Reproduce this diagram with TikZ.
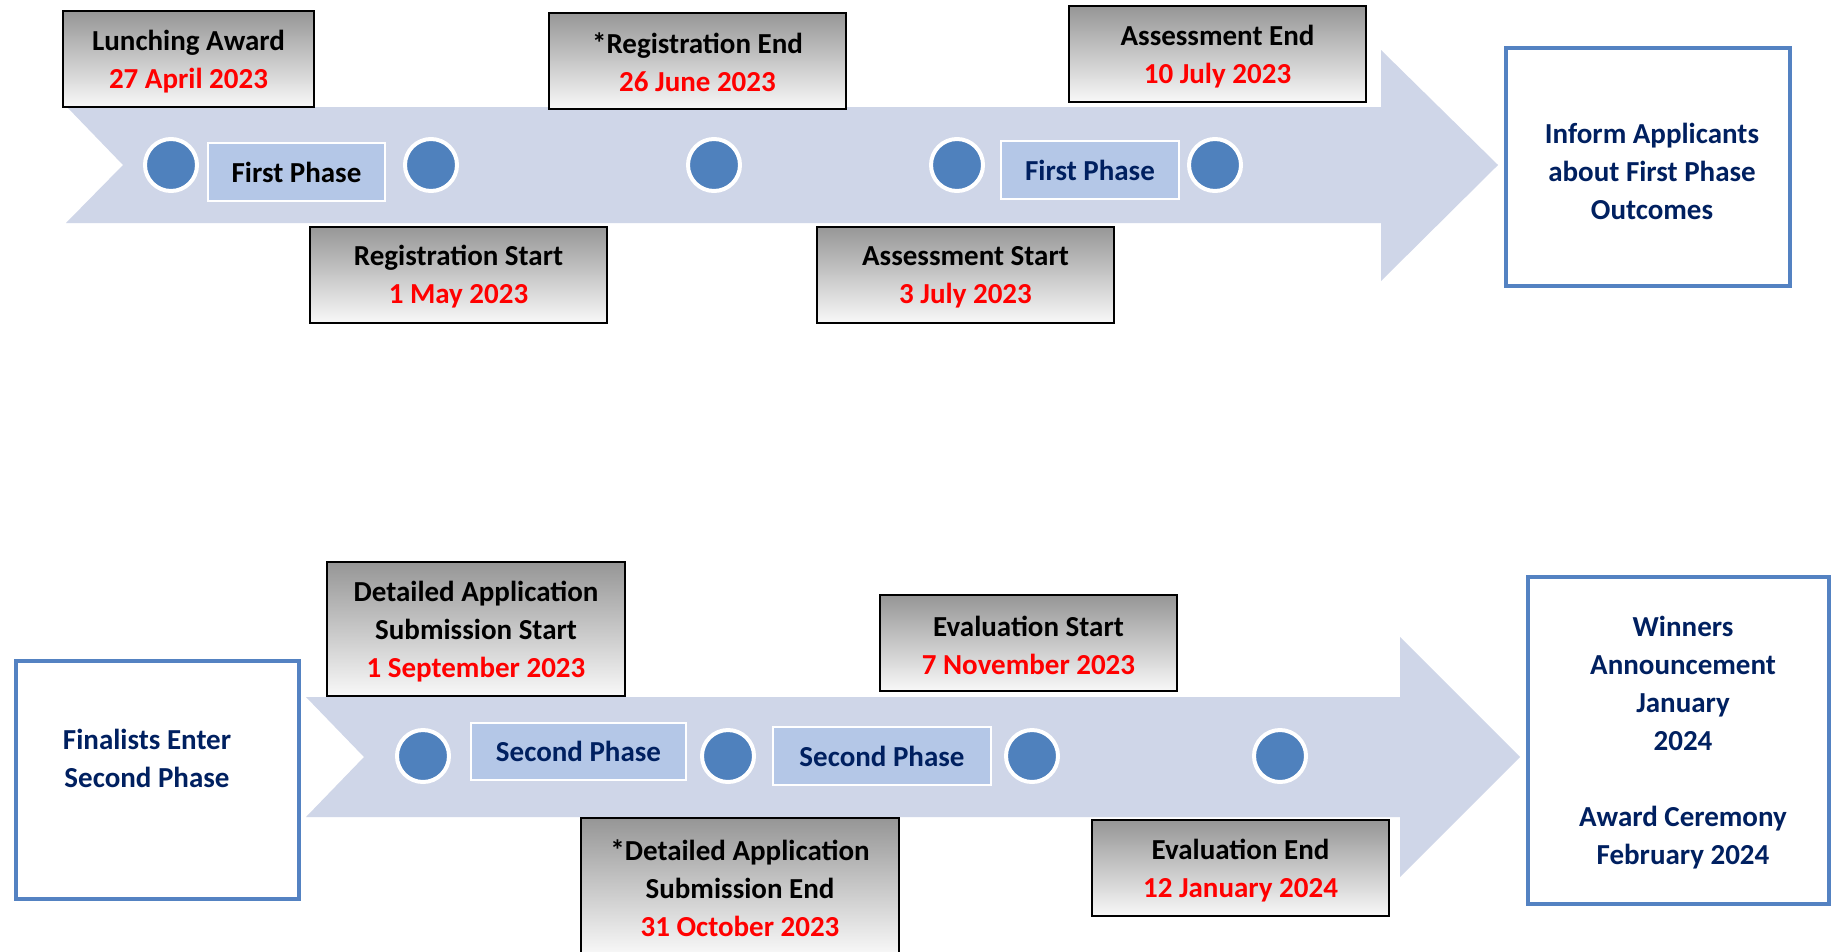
\documentclass[tikz,border=0pt]{standalone}
\usepackage{fontspec}
\setmainfont{Carlito}
\definecolor{arrowfill}{RGB}{207,214,232}
\definecolor{dotblue}{RGB}{79,129,189}
\definecolor{phasefill}{RGB}{180,199,231}
\definecolor{navy}{RGB}{0,32,96}
\definecolor{boxblue}{RGB}{84,130,194}
\definecolor{datered}{RGB}{255,0,0}
\definecolor{gtop}{RGB}{150,150,150}
\definecolor{gbot}{RGB}{248,248,248}
\newcommand\tallstrut{\rule{0pt}{25pt}}
\begin{document}
\begin{tikzpicture}[x=1pt,y=-1pt,
  every node/.style={font=\fontsize{29}{38}\selectfont\bfseries, inner sep=0pt, align=center},
  datebox/.style={draw=black, line width=2pt, top color=gtop, bottom color=gbot, minimum height=96},
  dot/.style={circle, fill=dotblue, draw=white, line width=4pt, minimum size=52},
  phasebox/.style={draw=white, line width=2pt, fill=phasefill},
  bluebox/.style={draw=boxblue, line width=4pt, fill=white},
  navytext/.style={text=navy}
]
\useasboundingbox (0,0) rectangle (1835,951);
\fill[white] (0,0) rectangle (1835,951);
\begin{scope}
\clip (0,0) rectangle (1835,951);

% ---------- top arrow ----------
\fill[arrowfill] (67,107) -- (1381,107) -- (1381,50) -- (1498,165) -- (1381,281)
  -- (1381,223) -- (66,223) -- (123,165) -- cycle;

\node[dot] (t1) at (171,165) {};
\node[dot] (t2) at (431,165) {};
\node[dot] (t3) at (714,165) {};
\node[dot] (t4) at (957,165) {};
\node[dot] (t5) at (1215,165) {};

\node[phasebox, minimum width=177, minimum height=58] (fp1) at (296.5,172) {First Phase};
\node[phasebox, navytext, minimum width=178, minimum height=58] (fp2) at (1090,170) {First Phase};

\node[datebox, minimum width=251] (la) at (188.5,59) {\tallstrut Lunching Award\\\textcolor{datered}{27 April 2023}};
\node[datebox, minimum width=297] (rs) at (458.5,274.5) {\tallstrut Registration Start\\\textcolor{datered}{1 May 2023}};
\node[datebox, minimum width=297] (re) at (697.5,60.5) {\tallstrut *Registration End\\\textcolor{datered}{26 June 2023}};
\node[datebox, minimum width=297] (as) at (965.5,274.5) {\tallstrut Assessment Start\\\textcolor{datered}{3 July 2023}};
\node[datebox, minimum width=297] (ae) at (1217.5,54) {\tallstrut Assessment End\\\textcolor{datered}{10 July 2023}};

\node[bluebox, minimum width=284, minimum height=238] (inf) at (1648,167) {};
\node[navytext] (inft) at (1652,171) {Inform Applicants\\about First Phase\\Outcomes};

% ---------- bottom arrow ----------
\fill[arrowfill] (306,697) -- (1400,697) -- (1400,637) -- (1520,757) -- (1400,877)
  -- (1400,817) -- (306,817) -- (364,757) -- cycle;

\node[dot] (b1) at (423,756) {};
\node[dot] (b2) at (728,756) {};
\node[dot] (b3) at (1032,756) {};
\node[dot] (b4) at (1280,756) {};

\node[phasebox, navytext, minimum width=215, minimum height=57] (sp1) at (578.5,751.5) {Second Phase};
\node[phasebox, navytext, minimum width=218, minimum height=58] (sp2) at (882,756) {Second Phase};

\node[datebox, minimum width=298, minimum height=134] (ds) at (476,629) {\tallstrut Detailed Application\\Submission Start\\\textcolor{datered}{1 September 2023}};
\node[datebox, minimum width=297] (es) at (1028.5,643) {\tallstrut Evaluation Start\\\textcolor{datered}{7 November 2023}};
\node[datebox, minimum width=318, minimum height=136] (de) at (740,886) {\tallstrut *Detailed Application\\Submission End\\\textcolor{datered}{31 October 2023}};
\node[datebox, minimum width=297] (ee) at (1240.5,868) {\tallstrut Evaluation End\\\textcolor{datered}{12 January 2024}};

\node[bluebox, minimum width=283, minimum height=238] (fin) at (157.5,780) {};
\node[navytext] (fint) at (147,758) {Finalists Enter\\Second Phase};

\node[bluebox, minimum width=301, minimum height=327] (win) at (1678.5,740.5) {};
\node[navytext] (wint) at (1683,742.5) {Winners\\Announcement\\January\\2024\\[38pt]Award Ceremony\\February 2024};
\end{scope}
\end{tikzpicture}
\end{document}
